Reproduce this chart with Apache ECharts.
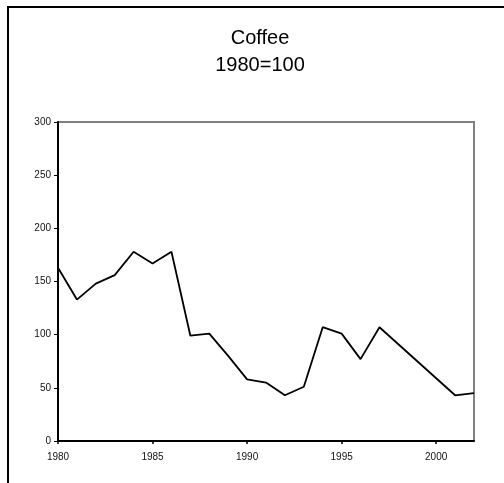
<!DOCTYPE html>
<html>
<head>
<meta charset="utf-8">
<script src="https://cdn.jsdelivr.net/npm/echarts@6/dist/echarts.min.js"></script>
<style>
  html, body { margin: 0; padding: 0; background: #fff; }
  #chart { width: 504px; height: 483px; }
</style>
</head>
<body>
<div id="chart"></div>
<script>
// Coffee price index, 1980 = 100
const years = [1980, 1981, 1982, 1983, 1984, 1985, 1986, 1987, 1988, 1989, 1990,
               1991, 1992, 1993, 1994, 1995, 1996, 1997, 1998, 1999, 2000, 2001, 2002];
const coffeeIndex = [163, 133, 148, 156, 178, 167, 178, 99, 101, 80, 58,
                     55, 43, 51, 107, 101, 77, 107, null, null, null, 43, 45];
const titleLines = ['Coffee', '1980=100'];

const seriesData = years.map((y, i) => [y, coffeeIndex[i]]);

const chart = echarts.init(document.getElementById('chart'));
const font = 'Liberation Sans, Arial, sans-serif';

chart.setOption({
  animation: false,
  backgroundColor: '#ffffff',
  title: {
    text: titleLines.join('\n'),
    left: 260,
    top: 25,
    textAlign: 'center',
    padding: 0,
    textStyle: {
      fontFamily: font,
      fontSize: 20,
      fontWeight: 'normal',
      color: '#000',
      lineHeight: 27
    }
  },
  graphic: [{
    type: 'rect',
    shape: { x: 8, y: 7, width: 600, height: 600 },
    style: { fill: 'none', stroke: '#000', lineWidth: 2 },
    silent: true
  }],
  grid: {
    left: 58, right: 30, top: 122, bottom: 42,
    show: true,
    borderColor: '#808080',
    borderWidth: 2,
    backgroundColor: 'transparent'
  },
  xAxis: {
    type: 'value',
    min: 1980,
    max: 2002,
    interval: 5,
    axisLine: { show: true, onZero: false, lineStyle: { color: '#000', width: 2 } },
    axisTick: { show: true, length: 3, lineStyle: { color: '#000', width: 1.5 } },
    axisLabel: {
      showMaxLabel: false,
      margin: 11,
      fontFamily: font,
      fontSize: 10,
      color: '#111',
      formatter: v => String(v)
    },
    splitLine: { show: false }
  },
  yAxis: {
    type: 'value',
    min: 0,
    max: 300,
    interval: 50,
    axisLine: { show: true, lineStyle: { color: '#000', width: 2 } },
    axisTick: { show: true, length: 4, lineStyle: { color: '#000', width: 1 } },
    axisLabel: {
      margin: 7,
      fontFamily: font,
      fontSize: 10,
      color: '#111'
    },
    splitLine: { show: false }
  },
  series: [{
    type: 'line',
    data: seriesData,
    connectNulls: true,
    showSymbol: false,
    lineStyle: { color: '#000', width: 1.8 },
    z: 3
  }]
});
</script>
</body>
</html>
